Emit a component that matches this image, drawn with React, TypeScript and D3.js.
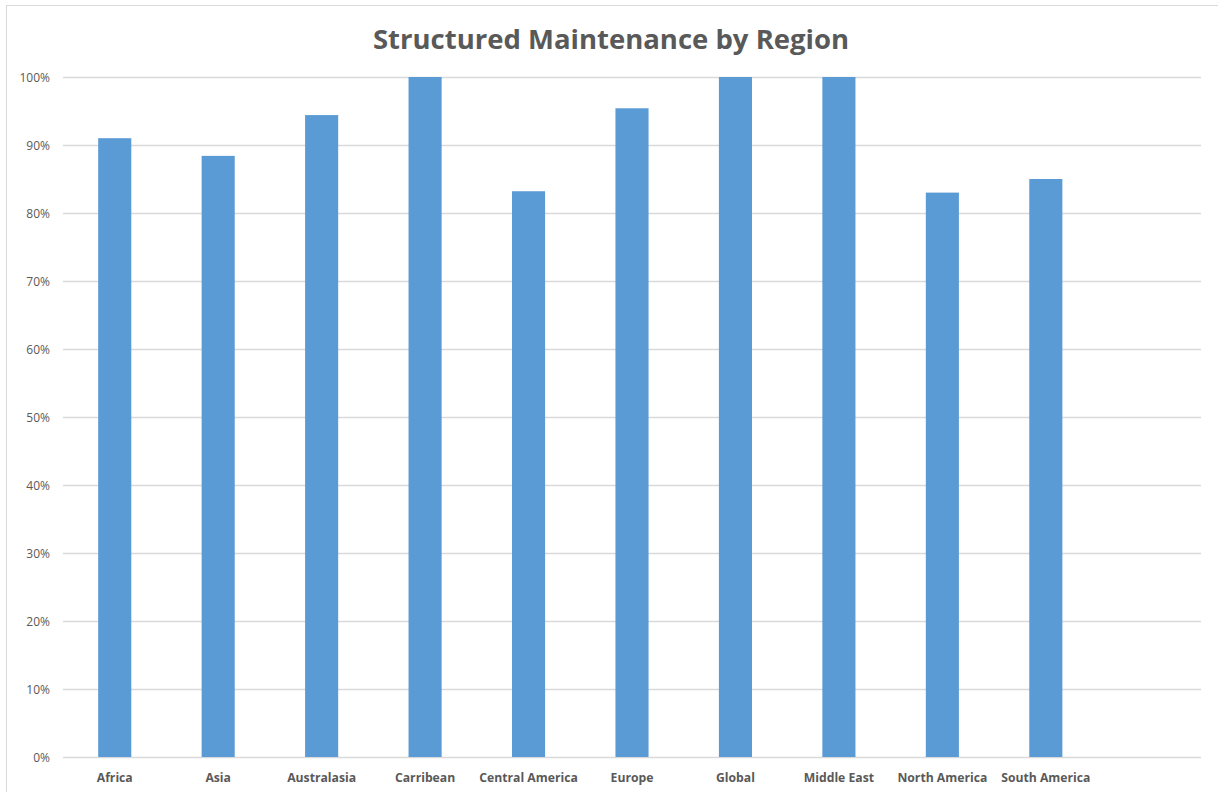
import React, { useEffect, useRef } from "react";
import * as d3 from "d3";

const regions = [
  "Africa",
  "Asia",
  "Australasia",
  "Carribean",
  "Central America",
  "Europe",
  "Global",
  "Middle East",
  "North America",
  "South America",
  "",
];
const shares = [0.91, 0.884, 0.944, 1, 0.832, 0.954, 1, 1, 0.83, 0.85];
const yTicks = [0, 0.1, 0.2, 0.3, 0.4, 0.5, 0.6, 0.7, 0.8, 0.9, 1];

const W = 1218;
const H = 792;

const App: React.FC = () => {
  const ref = useRef<SVGSVGElement | null>(null);

  useEffect(() => {
    const margin = { top: 77, right: 17, bottom: 35, left: 63 };
    const width = W - margin.left - margin.right;
    const height = H - margin.top - margin.bottom;

    const svg = d3.select(ref.current);
    svg.selectAll("*").remove();

    // chart frame
    svg
      .append("rect")
      .attr("x", 6.5)
      .attr("y", 5.5)
      .attr("width", W + 10)
      .attr("height", H + 10)
      .attr("fill", "#fff")
      .attr("stroke", "#d9d9d9");

    svg
      .append("text")
      .attr("x", 611)
      .attr("y", 49)
      .attr("text-anchor", "middle")
      .attr("font-family", "'Open Sans', sans-serif")
      .attr("font-weight", "bold")
      .attr("font-size", 27.5)
      .attr("fill", "#595959")
      .text("Structured Maintenance by Region");

    const x = d3.scaleBand().domain(regions).range([0, width]).paddingInner(0.68).paddingOuter(0.34);
    const y = d3.scaleLinear().domain([0, 1]).range([height, 0]);

    const g = svg.append("g").attr("transform", `translate(${margin.left},${margin.top})`);

    // gridlines
    g.selectAll("line.grid")
      .data(yTicks)
      .enter()
      .append("line")
      .attr("class", "grid")
      .attr("x1", 0)
      .attr("x2", width)
      .attr("y1", (d) => Math.round(y(d)) + 0.5)
      .attr("y2", (d) => Math.round(y(d)) + 0.5)
      .attr("stroke", "#d9d9d9")
      .attr("stroke-width", 1.3);

    // y labels
    g.selectAll("text.ytick")
      .data(yTicks)
      .enter()
      .append("text")
      .attr("class", "ytick")
      .attr("x", -13)
      .attr("y", (d) => y(d) + 4.5)
      .attr("text-anchor", "end")
      .attr("font-family", "'Open Sans', sans-serif")
      .attr("font-size", 12)
      .attr("fill", "#595959")
      .text((d) => d3.format(".0%")(d));

    // bars
    g.selectAll("rect.bar")
      .data(shares)
      .enter()
      .append("rect")
      .attr("class", "bar")
      .attr("x", (d, i) => x(regions[i])!)
      .attr("y", (d) => y(d))
      .attr("width", x.bandwidth())
      .attr("height", (d) => height - y(d))
      .attr("fill", "#5b9bd5");

    // category labels
    g.selectAll("text.xtick")
      .data(regions.filter((r) => r))
      .enter()
      .append("text")
      .attr("class", "xtick")
      .attr("x", (d) => x(d)! + x.bandwidth() / 2)
      .attr("y", height + 25)
      .attr("text-anchor", "middle")
      .attr("font-family", "'Open Sans', sans-serif")
      .attr("font-weight", "bold")
      .attr("font-size", 12.2)
      .attr("fill", "#595959")
      .text((d) => d);
  }, []);

  return (
    <svg
      ref={ref}
      width={W}
      height={H}
      style={{ position: "absolute", left: 0, top: 0, display: "block" }}
    />
  );
};

export default App;
